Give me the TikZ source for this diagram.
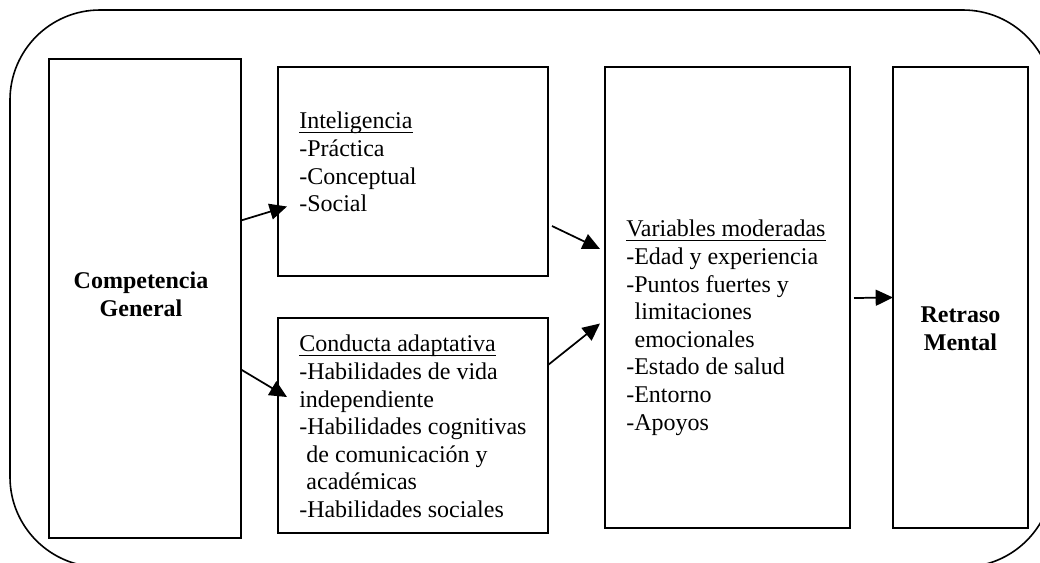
\documentclass[tikz,border=0pt]{standalone}
\usepackage{fontspec}
\setmainfont{Liberation Serif}
\usetikzlibrary{arrows.meta,calc,fit}
\newcommand{\ulhead}[1]{\setbox0=\hbox{#1}\rlap{\rule[-3.4pt]{\wd0}{0.8pt}}\box0}

\begin{document}
\begin{tikzpicture}[x=0.75pt,y=-0.75pt,
  box/.style={draw, line width=1.5pt, inner sep=0pt, outer sep=0pt},
  txt/.style={inner sep=0pt, align=left, anchor=north west, font=\fontsize{18pt}{20.7pt}\selectfont},
  bold/.style={inner sep=0pt, align=center, font=\fontsize{18pt}{20.7pt}\selectfont\bfseries},
  arr/.style={line width=1.3pt, -{Triangle[length=13pt,width=12pt]}}]
\useasboundingbox (0,0) rectangle (1040,562);
\begin{scope}
\clip (0,0) rectangle (1040,562);
\draw[line width=1.2pt, rounded corners=67.5pt] (10,10) rectangle (1053,567);
\end{scope}
\node[box, fit={(49,59) (241,538)}] (comp) {};
\node[box, fit={(278,67) (548,276)}] (intel) {};
\node[box, fit={(278,318) (548,533)}] (cond) {};
\node[box, fit={(605,67) (850,528)}] (var) {};
\node[box, fit={(893,67) (1028,528)}] (ret) {};
\node[bold] (comp-lbl) at ($(comp.center)+(-4,-4)$) {Competencia\\General};
\node[bold] (ret-lbl) at ($(ret.center)+(0,31)$) {Retraso\\Mental};
\node[txt] (intel-txt) at ($(intel.north west)+(21,45)$) {\ulhead{Inteligencia}\\-Práctica\\-Conceptual\\-Social};
\node[txt] (cond-txt) at ($(cond.north west)+(21,17)$) {\ulhead{Conducta adaptativa}\\-Habilidades de vida\\independiente\\-Habilidades cognitivas\\\hspace*{0.3em}de comunicación y\\\hspace*{0.3em}académicas\\-Habilidades sociales};
\node[txt] (var-txt) at ($(var.north west)+(21,153)$) {\ulhead{Variables moderadas}\\-Edad y experiencia\\-Puntos fuertes y\\\hspace*{0.35em}limitaciones\\\hspace*{0.35em}emocionales\\-Estado de salud\\-Entorno\\-Apoyos};
\draw[arr] ($(comp.east)+(0,-78)$) -- ($(intel.west)+(9,35)$);
\draw[arr] ($(comp.east)+(0,71)$) -- ($(cond.west)+(9,-28.5)$);
\draw[arr] ($(intel.east)+(4,54.5)$) -- ($(var.west)+(-5,-48.5)$);
\draw[arr] ($(cond.east)+(0,-60.5)$) -- ($(var.west)+(-5,26)$);
\draw[arr] ($(var.east)+(4,0.5)$) -- (ret.west);
\end{tikzpicture}
\end{document}
